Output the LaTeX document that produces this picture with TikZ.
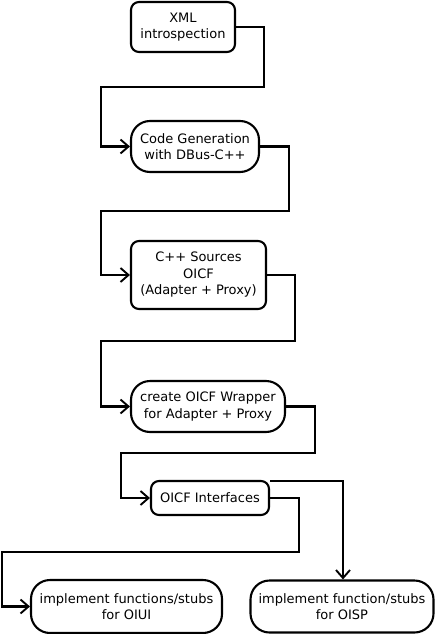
\documentclass[tikz,border=0pt]{standalone}
\usepackage{fontspec}
\setmainfont{DejaVu Sans}
\usetikzlibrary{arrows.meta}
\tikzset{
  box/.style={draw, line width=2.1pt, align=center, inner sep=0pt,
    font=\fontsize{13}{16.5}\selectfont},
  sq/.style={box, rounded corners=8pt},
  rnd/.style={box, rounded corners=19pt},
  arr/.style={line width=2.1pt, -{Straight Barb[length=8pt,width=14pt,line width=1.9pt]}}
}
\begin{document}
\begin{tikzpicture}[x=1pt,y=-1pt]
\useasboundingbox (0,0) rectangle (436,634);
\node[sq, minimum width=104pt, minimum height=50pt] (b1) at (183,27) {XML\\introspection};
\node[rnd, minimum width=128pt, minimum height=51pt] (b2) at (195,146.5) {Code Generation\\with DBus-C++};
\node[sq, minimum width=135pt, minimum height=68pt] (b3) at (198.5,275) {C++ Sources\\OICF\\(Adapter + Proxy)};
\node[rnd, minimum width=154pt, minimum height=51pt] (b4) at (208,406.5) {create OICF Wrapper\\for Adapter + Proxy};
\node[sq, minimum width=118pt, minimum height=34pt] (b5) at (210,498) {OICF Interfaces};
\node[rnd, minimum width=191pt, minimum height=53pt] (b6) at (126.5,606.5) {implement functions/stubs\\for OIUI};
\node[rnd, minimum width=183pt, minimum height=52pt] (b7) at (342,606.5) {implement function/stubs\\for OISP};
\draw[arr] (b1.east) -- (264,27) -- (264,87) -- (101,87) |- (b2.west);
\draw[arr] (b2.east) -- (289,146.5) -- (289,211) -- (101,211) |- (b3.west);
\draw[arr] (b3.east) -- (295,275) -- (295,341) -- (101,341) |- (b4.west);
\draw[arr] (b4.east) -- (315,406.5) -- (315,453) -- (121,453) |- (b5.west);
\draw[arr] (b5.east) -- (299,498) -- (299,552) -- (2,552) |- (b6.west);
\coordinate (c5) at (270,481);
\draw[arr] (c5) -- (343,481) -- (b7.north -| 343,0);
\end{tikzpicture}
\end{document}
